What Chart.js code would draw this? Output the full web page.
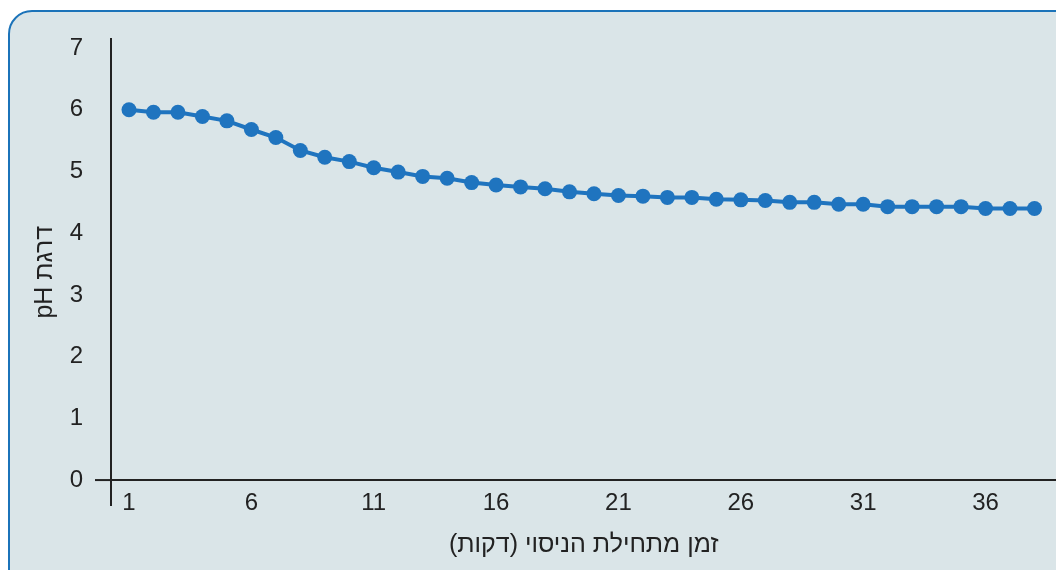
<!doctype html>
<html lang="he">
<head>
<meta charset="utf-8">
<title>pH</title>
<script src="https://cdn.jsdelivr.net/npm/chart.js"></script>
<style>
    html, body {
        margin: 0;
        padding: 0;
        background: #ffffff;
        overflow: hidden;
    }
    .box {
        position: absolute;
        left: 8px;
        top: 10px;
        width: 1120px;
        height: 620px;
        background: #dae5e8;
        border: 2px solid #1b73b9;
        border-radius: 24px;
    }
    .chartWrap {
        position: absolute;
        left: 0;
        top: -3px;
        width: 1064px;
        height: 573px;
    }
</style>
</head>
<body>
<div class="box"></div>
<div class="chartWrap">
    <canvas id="myChart" dir="rtl"></canvas>
</div>

<script>
// minutes since start of the experiment
const minutes = [1, 2, 3, 4, 5, 6, 7, 8, 9, 10, 11, 12, 13, 14, 15, 16, 17, 18, 19,
    20, 21, 22, 23, 24, 25, 26, 27, 28, 29, 30, 31, 32, 33, 34, 35, 36, 37, 38];
// pH readings
const phValues = [6.0, 5.96, 5.96, 5.89, 5.82, 5.68, 5.55, 5.34, 5.23, 5.16, 5.06, 4.99, 4.92, 4.89,
    4.82, 4.78, 4.75, 4.72, 4.67, 4.64, 4.61, 4.60, 4.58, 4.58, 4.55, 4.54, 4.53, 4.50,
    4.50, 4.47, 4.47, 4.43, 4.43, 4.43, 4.43, 4.40, 4.40, 4.40];
const xTicks = [1, 6, 11, 16, 21, 26, 31, 36];
const yTicks = [0, 1, 2, 3, 4, 5, 6, 7];
const xTitle = 'זמן מתחילת הניסוי (דקות)';
const yTitle = 'דרגת pH';

const blue = '#1f74bf';
const ink = '#222222';

// short overhang of the x axis to the left of the y axis
const axisOverhang = {
    id: 'axisOverhang',
    afterDraw(chart) {
        const { ctx, chartArea: { left } } = chart;
        const y0 = chart.scales.y.getPixelForValue(0);
        ctx.save();
        ctx.strokeStyle = ink;
        ctx.lineWidth = 2;
        ctx.beginPath();
        ctx.moveTo(left - 16, y0);
        ctx.lineTo(left, y0);
        ctx.stroke();
        ctx.restore();
    }
};

const points = minutes.map((m, i) => ({ x: m, y: phValues[i] }));

new Chart(document.getElementById('myChart'), {
    type: 'line',
    data: {
        datasets: [{
            data: points,
            borderColor: blue,
            backgroundColor: blue,
            borderWidth: 4,
            pointRadius: 7.5,
            pointHoverRadius: 7.5,
            pointBorderWidth: 0,
            tension: 0,
            clip: false
        }]
    },
    options: {
        responsive: true,
        maintainAspectRatio: false,
        animation: false,
        layout: {
            padding: { left: 28, top: 35, right: 0, bottom: 65 }
        },
        plugins: {
            legend: { display: false },
            tooltip: { enabled: false }
        },
        scales: {
            x: {
                type: 'linear',
                position: { y: 0 },
                min: 0.264,
                max: 38.9,
                afterBuildTicks: (scale) => {
                    scale.ticks = xTicks.map(v => ({ value: v }));
                },
                grid: { display: false, drawTicks: false },
                border: { display: true, color: ink, width: 2 },
                ticks: {
                    color: ink,
                    padding: 9,
                    maxRotation: 0,
                    autoSkip: false,
                    font: { family: 'Liberation Sans', size: 24 }
                },
                title: {
                    display: true,
                    text: xTitle,
                    color: ink,
                    padding: { top: 3, bottom: 0 },
                    font: { family: 'Liberation Sans', size: 25 }
                }
            },
            y: {
                type: 'linear',
                position: 'left',
                min: -0.404,
                max: 7.14,
                afterBuildTicks: (scale) => {
                    scale.ticks = yTicks.map(v => ({ value: v }));
                },
                afterFit: (scale) => {
                    scale.width = 83;
                },
                grid: { display: false, drawTicks: false },
                border: { display: true, color: ink, width: 2 },
                ticks: {
                    color: ink,
                    padding: 28,
                    font: { family: 'Liberation Sans', size: 24 }
                },
                title: {
                    display: true,
                    text: yTitle,
                    color: ink,
                    padding: { top: 2, bottom: 0 },
                    font: { family: 'Liberation Sans', size: 25 }
                }
            }
        }
    },
    plugins: [axisOverhang]
});
</script>
</body>
</html>
